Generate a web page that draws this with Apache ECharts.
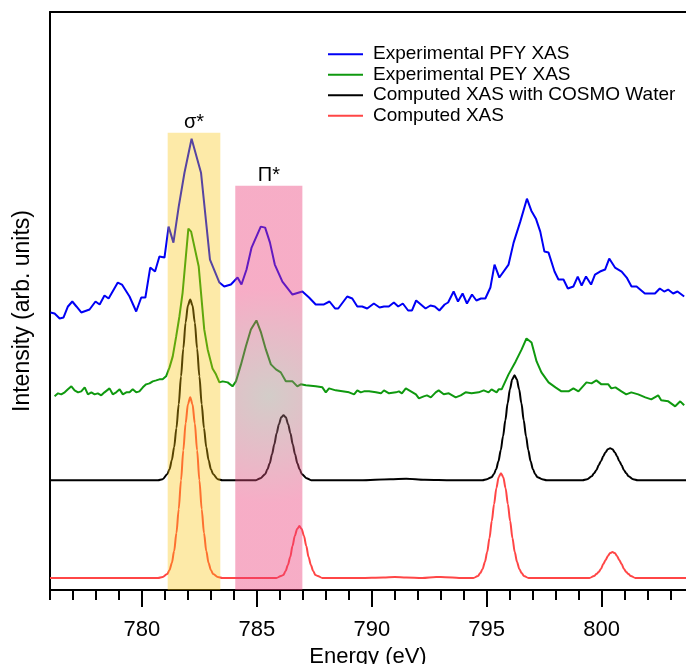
<!DOCTYPE html>
<html><head><meta charset="utf-8">
<script src="https://cdn.jsdelivr.net/npm/echarts@6/dist/echarts.min.js"></script>
<style>html,body{margin:0;padding:0;background:#fff}#c{width:686px;height:664px}</style>
</head><body><div id="c"></div>
<script>
// Energy (eV) vs intensity (arb. units)
const pfyXAS = [[776.02,278],[776.20,277],[776.42,272],[776.59,273],[776.78,284],[776.97,289],[777.15,284],[777.36,278],[777.72,281],[777.98,289],[778.16,286],[778.37,295],[778.55,292],[778.95,308],[779.13,306],[779.46,294],[779.75,279],[779.97,293],[780.15,293],[780.36,323],[780.57,319],[780.76,334],[780.98,333],[781.16,364],[781.37,348],[781.60,384],[781.85,418],[782.16,452],[782.57,418],[782.96,331],[783.37,308],[783.58,304],[783.87,306],[784.16,313],[784.33,306],[784.55,321],[784.77,343],[785.17,364],[785.36,363],[785.57,348],[785.78,326],[786.11,309],[786.55,296],[786.98,299],[787.27,293],[787.56,286],[787.92,286],[788.16,289],[788.40,282],[788.54,282],[788.93,294],[789.15,292],[789.37,284],[789.58,284],[789.80,282],[790.09,287],[790.34,283],[790.53,284],[790.74,284],[790.96,288],[791.15,284],[791.35,287],[791.58,280],[791.75,280],[791.93,290],[792.34,282],[792.55,285],[792.74,284],[792.94,280],[793.17,286],[793.32,288],[793.56,299],[793.75,289],[793.95,297],[794.14,287],[794.36,296],[794.55,290],[794.75,292],[794.94,292],[795.16,303],[795.34,326],[795.55,313],[795.95,326],[796.17,348],[796.46,369],[796.75,392],[796.94,380],[797.14,372],[797.33,359],[797.51,339],[797.69,338],[797.95,319],[798.12,311],[798.34,311],[798.53,302],[798.77,304],[798.96,314],[799.13,305],[799.32,314],[799.54,306],[799.71,316],[799.93,319],[800.15,321],[800.33,332],[800.58,323],[800.87,319],[801.09,313],[801.30,304],[801.52,304],[801.88,297],[802.17,297],[802.32,297],[802.53,302],[802.72,299],[802.89,301],[803.11,297],[803.30,299],[803.59,294]];

const peyXAS = [[776.20,194],[776.35,197],[776.49,196],[776.64,198],[776.78,201],[776.93,204],[777.07,200],[777.22,198],[777.36,199],[777.51,203],[777.65,196],[777.80,198],[777.94,196],[778.08,197],[778.23,195],[778.37,198],[778.59,202],[778.73,196],[778.88,198],[779.03,201],[779.17,196],[779.32,198],[779.46,198],[779.60,201],[779.75,198],[779.89,199],[780.04,203],[780.18,206],[780.33,207],[780.47,209],[780.62,210],[780.76,211],[780.90,211],[781.05,214],[781.20,223],[781.34,234],[781.49,254],[781.63,274],[781.77,298],[782.02,362],[782.14,359],[782.47,324],[782.71,261],[782.86,241],[783.07,222],[783.22,216],[783.37,208],[783.51,209],[783.73,208],[783.94,204],[784.09,209],[784.31,226],[784.52,244],[784.74,261],[784.98,270],[785.18,258],[785.39,241],[785.61,226],[785.83,221],[786.04,218],[786.26,209],[786.55,209],[786.76,204],[786.91,206],[787.13,205],[787.56,204],[787.85,203],[788.00,198],[788.14,202],[788.43,200],[788.72,199],[789.01,198],[789.23,196],[789.37,200],[789.52,198],[789.66,199],[789.88,199],[790.18,198],[790.40,197],[790.53,200],[790.75,197],[791.05,198],[791.18,199],[791.31,197],[791.48,202],[791.70,199],[791.92,196],[792.05,192],[792.26,194],[792.40,195],[792.57,193],[792.78,198],[792.91,200],[793.13,196],[793.35,197],[793.65,193],[793.87,195],[794.08,198],[794.34,197],[794.65,198],[794.87,200],[795.08,198],[795.21,201],[795.43,198],[795.52,201],[795.65,201],[795.95,216],[796.26,229],[796.52,241],[796.73,252],[796.95,248],[797.17,229],[797.38,218],[797.69,208],[797.99,203],[798.25,199],[798.56,199],[798.77,202],[798.99,199],[799.34,208],[799.56,207],[799.77,210],[799.99,206],[800.29,206],[800.42,202],[800.60,203],[800.86,199],[801.07,196],[801.29,198],[801.59,196],[801.90,193],[802.16,191],[802.46,195],[802.59,190],[802.90,189],[803.20,184],[803.42,189],[803.59,185]];

const cosmoXAS = [[776.0,110],[780.5,110],[780.7,110],[780.9,111],[781.1,116],[781.2,121],[781.3,130],[781.4,143],[781.5,162],[781.6,186],[781.7,214],[781.8,242],[781.9,268],[782.0,285],[782.1,291],[782.2,285],[782.3,268],[782.4,242],[782.5,214],[782.6,186],[782.7,162],[782.8,143],[782.9,130],[783.0,121],[783.1,116],[783.3,111],[783.5,110],[784.96,110],[785.16,112],[785.36,116],[785.46,121],[785.56,127],[785.66,136],[785.76,146],[785.86,157],[785.96,166],[786.06,173],[786.16,175],[786.26,173],[786.36,166],[786.46,157],[786.56,146],[786.66,136],[786.76,127],[786.86,121],[786.96,116],[787.16,112],[787.36,110],[789.5,110],[790.8,111],[791.5,111.5],[792.3,110.5],[793.5,110],[794.81,110],[795.01,111],[795.21,113],[795.31,116],[795.41,121],[795.51,129],[795.61,140],[795.71,154],[795.81,170],[795.91,187],[796.01,201],[796.11,211],[796.21,215],[796.31,211],[796.41,201],[796.51,187],[796.61,170],[796.71,154],[796.81,140],[796.91,129],[797.01,121],[797.11,116],[797.21,113],[797.41,111],[797.61,110],[799.17,110],[799.37,111],[799.57,114],[799.67,117],[799.77,120],[799.87,125],[799.97,129],[800.07,134],[800.17,138],[800.27,141],[800.37,142],[800.47,141],[800.57,138],[800.67,134],[800.77,129],[800.87,125],[800.97,120],[801.07,117],[801.17,114],[801.37,111],[801.57,110],[803.67,110]];

const computedXAS = [[776.0,12],[780.7,12],[780.9,13],[781.1,16],[781.2,20],[781.3,27],[781.4,39],[781.5,57],[781.6,81],[781.7,110],[781.8,140],[781.9,167],[782.0,186],[782.1,193],[782.2,186],[782.3,167],[782.4,140],[782.5,110],[782.6,81],[782.7,57],[782.8,39],[782.9,27],[783.0,20],[783.1,16],[783.3,13],[783.5,12],[785.85,12],[786.05,14],[786.15,15],[786.25,19],[786.35,25],[786.45,33],[786.55,44],[786.65,54],[786.75,61],[786.85,64],[786.95,61],[787.05,54],[787.15,44],[787.25,33],[787.35,25],[787.45,19],[787.55,15],[787.65,14],[787.85,12],[789.5,12],[790.5,12.5],[791.0,13],[791.5,12.5],[792.2,12],[792.8,13],[793.2,12.8],[793.8,12],[794.42,12],[794.62,14],[794.72,17],[794.82,21],[794.92,28],[795.02,38],[795.12,52],[795.22,69],[795.32,86],[795.42,102],[795.52,113],[795.62,117],[795.72,113],[795.82,102],[795.92,86],[796.02,69],[796.12,52],[796.22,38],[796.32,28],[796.42,21],[796.52,17],[796.62,14],[796.82,12],[799.47,12],[799.67,14],[799.77,16],[799.87,18],[799.97,21],[800.07,26],[800.17,30],[800.27,34],[800.37,37],[800.47,38],[800.57,37],[800.67,34],[800.77,30],[800.87,26],[800.97,21],[801.07,18],[801.17,16],[801.27,14],[801.47,12],[803.67,12]];

const seriesNames = ['Experimental PFY XAS','Experimental PEY XAS','Computed XAS with COSMO Water','Computed XAS'];
const majorTicks = [780,785,790,795,800];
const minorTicks = [776,777,778,779,780,781,782,783,784,785,786,787,788,789,790,791,792,793,794,795,796,797,798,799,800,801,802,803];
const sigmaBand = {label:'σ*', from:781.12, to:783.41, top:458};
const piBand = {label:'Π*', from:784.06, to:786.98, top:405};
const xRange = [776, 803.67];
const yRange = [0, 579];

const FONT = '"Liberation Sans", Arial, sans-serif';
const chart = echarts.init(document.getElementById('c'), null, {renderer:'canvas'});
function lineSeries(name, data, color, smooth) {
  return {name, type:'line', data, showSymbol:false, smooth:smooth, smoothMonotone: smooth ? 'x' : undefined,
    lineStyle:{color, width:2}, itemStyle:{color}, z:2, silent:true, animation:false};
}
chart.setOption({
  animation:false,
  backgroundColor:'#fff',
  grid:{left:50, right:0, top:12, bottom:74, outerBoundsMode:'none', containLabel:false},
  legend:{
    data:seriesNames, orient:'vertical', left:328, top:44, padding:0, itemWidth:35, itemHeight:2, itemGap:0,
    icon:'rect', selectedMode:false,
    textStyle:{fontFamily:FONT, fontSize:19, color:'#000', lineHeight:20.5, padding:[0,0,0,5]}
  },
  xAxis:[
    {type:'value', min:xRange[0], max:xRange[1], position:'bottom',
     name:'Energy (eV)', nameLocation:'middle', nameGap:50,
     nameTextStyle:{fontFamily:FONT, fontSize:22, color:'#000'},
     axisLine:{show:true, lineStyle:{color:'#000', width:2}},
     axisTick:{show:true, customValues:majorTicks, length:17, lineStyle:{color:'#000', width:2}},
     axisLabel:{customValues:majorTicks, fontFamily:FONT, fontSize:22, color:'#000', margin:29},
     splitLine:{show:false}},
    {type:'value', min:xRange[0], max:xRange[1], position:'bottom',
     axisLine:{show:false},
     axisTick:{show:true, customValues:minorTicks, length:10, lineStyle:{color:'#000', width:2}},
     axisLabel:{show:false}, splitLine:{show:false}},
    {type:'value', min:xRange[0], max:xRange[1], position:'top',
     axisLine:{show:true, lineStyle:{color:'#000', width:2}},
     axisTick:{show:false}, axisLabel:{show:false}, splitLine:{show:false}}
  ],
  yAxis:{type:'value', min:yRange[0], max:yRange[1],
     name:'Intensity (arb. units)', nameLocation:'middle', nameGap:16,
     nameTextStyle:{fontFamily:FONT, fontSize:23, color:'#000', padding:[0,20,0,0]},
     axisLine:{show:true, lineStyle:{color:'#000', width:2}},
     axisTick:{show:false}, axisLabel:{show:false}, splitLine:{show:false}},
  series:[
    lineSeries(seriesNames[0], pfyXAS, '#0000f5', false),
    lineSeries(seriesNames[1], peyXAS, '#0f990f', false),
    lineSeries(seriesNames[2], cosmoXAS, '#000000', 0.3),
    lineSeries(seriesNames[3], computedXAS, '#ff4646', 0.3),
    {type:'line', data:[], zlevel:1, z:10, silent:true, animation:false,
     markArea:{silent:true, animation:false, zlevel:1, z:10,
       label:{show:true, position:'top', distance:0, fontFamily:FONT, fontSize:20, color:'#000'},
       data:[
         [{name:sigmaBand.label, coord:[sigmaBand.from, sigmaBand.top],
           itemStyle:{color:'rgba(249,195,6,0.35)'}},
          {coord:[sigmaBand.to, yRange[0]]}],
         [{name:piBand.label, coord:[piBand.from, piBand.top],
           itemStyle:{color:{type:'radial', x:0.5, y:0.52, r:1.6,
             colorStops:[{offset:0, color:'rgba(150,135,125,0.42)'},{offset:1, color:'rgba(235,60,120,0.42)'}]}}},
          {coord:[piBand.to, yRange[0]]}]
       ]}}
  ]
});
</script></body></html>
